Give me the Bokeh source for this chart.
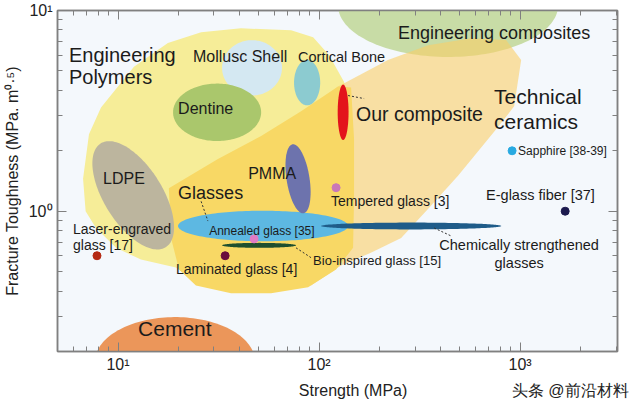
import numpy as np
from bokeh.plotting import figure
from bokeh.models import Range1d, LogAxis, FixedTicker, ColumnDataSource
from bokeh.core.properties import value
from bokeh.embed import file_html
from bokeh.resources import INLINE

FONT = "Liberation Sans"

# ---------------- axes data ----------------
x_limits = (5.0, 3050.0)
y_limits = (0.2, 10.0)
x_major = [10, 100, 1000]
x_minor = [5, 6, 7, 8, 9, 20, 30, 40, 50, 60, 70, 80, 90, 200, 300, 400, 500, 600, 700, 800, 900, 2000, 3000]
y_major = [1, 10]
y_minor = [0.2, 0.3, 0.4, 0.5, 0.6, 0.7, 0.8, 0.9, 2, 3, 4, 5, 6, 7, 8, 9]
x_tick_labels = {10: "10¹", 100: "10²", 1000: "10³"}
y_tick_labels = {1: "10⁰", 10: "10¹"}
x_title = "Strength (MPa)"
y_title = "Fracture Toughness (MPa. m⁰·⁵)"
watermark = "头条 @前沿材料"
# positions (strength) under which the x title and the watermark sit
x_title_at = 147.6
watermark_at = 1775.0

# ---------------- material family regions (strength MPa, toughness MPa m^0.5) ----------------
polymers_strength = [7.17, 8.23, 12.0, 17.7, 25.9, 40.9, 72.6, 93.4, 112, 133, 144, 148, 141, 81.4, 45.9, 25.9, 19.4, 13.0, 9.77, 7.77, 6.9, 6.70]
polymers_toughness = [2.42, 3.29, 5.24, 6.88, 7.79, 8.15, 7.97, 7.36, 6.00, 4.42, 3.22, 1.16, 0.779, 0.442, 0.408, 0.427, 0.524, 0.574, 0.657, 0.825, 1.0, 1.45]

glasses_strength = [17.9, 31.4, 51.5, 81.4, 124.3, 144.3, 149.3, 149.3, 147.6, 121.5, 88.2, 57.7, 36.5, 24.4, 20.1, 18.35]
glasses_toughness = [1.30, 1.82, 2.37, 3.15, 4.18, 4.13, 2.29, 1.16, 0.657, 0.512, 0.418, 0.390, 0.390, 0.427, 0.512, 0.736]

ceramics_strength = [124.3, 220, 349, 570, 852, 1012, 934, 760, 491, 349, 256, 181, 128.7, 91.2, 45.9, 25.9]
ceramics_toughness = [4.18, 5.67, 6.72, 7.28, 7.12, 5.67, 3.33, 2.56, 1.50, 1.03, 0.736, 0.621, 0.536, 0.427, 0.587, 1.16]

# ellipse-shaped families: centre, half-extent (decades) along / across the tilt
ell_names = ["Engineering composites", "Cement", "Mollusc Shell", "Cortical Bone", "Dentine", "LDPE",
             "Annealed glass", "Chemically strengthened", "Bio-inspired", "PMMA", "Our composite"]
ell_strength = [438, 19.2, 46.4, 87.2, 31.1, 11.9, 52.65, 286.9, 50.3, 78.6, 131.7]
ell_toughness = [10.58, 0.178, 5.18, 4.37, 3.11, 1.20, 0.844, 0.844, 0.676, 1.45, 3.11]
ell_a = [0.547, 0.398, 0.149, 0.065, 0.219, 0.305, 0.423, 0.448, 0.184, 0.174, 0.027]
ell_b = [0.256, 0.222, 0.138, 0.113, 0.143, 0.145, 0.076, 0.017, 0.0123, 0.057, 0.138]
ell_angle = [0, 0, 0, 0, 0, -58, 0, 0, 0, -81, 0]
ell_colors = ["#c8dca6", "#eb965a", "#d4e8f2", "#8ccbd0", "#aac76c", "#bcb59e",
              "#5db8e2", "#1f5c89", "#1e4f2e", "#6d73ad", "#e3141b"]

# ---------------- individual data points ----------------
pt_names = ["Tempered glass", "Bio-inspired glass", "Laminated glass", "Laser-engraved glass", "Sapphire", "E-glass fiber"]
pt_strength = [121.5, 47.5, 34.1, 7.86, 912, 1675]
pt_toughness = [1.31, 0.728, 0.600, 0.600, 2.00, 1.0]
pt_colors = ["#c978b8", "#e07cc4", "#6a0d3c", "#b52a14", "#29aae1", "#1c1a4e"]

# ---------------- text labels ----------------
lbl_text = ["Engineering", "Polymers", "Technical", "ceramics", "Cement", "Our composite",
            "Engineering composites", "Glasses", "Mollusc Shell", "Dentine", "LDPE", "PMMA",
            "Cortical Bone", "Tempered glass [3]", "Laminated glass [4]", "Laser-engraved",
            "glass [17]", "E-glass fiber [37]", "Bio-inspired glass [15]", "Annealed glass [35]",
            "Sapphire [38-39]", "Chemically strengthened", "glasses"]
lbl_x = [5.70, 5.70, 742, 742, 12.58, 152.8, 247, 19.9, 23.6, 19.9, 8.42, 44.4, 78.6, 114.7,
         19.4, 5.97, 5.97, 677, 93.4, 28.4, 977, 988.6, 988.6]
lbl_y = [6.00, 4.68, 3.73, 2.81, 0.259, 3.04, 7.70, 1.23, 5.87, 3.25, 1.45, 1.54, 5.87, 1.13,
         0.518, 0.815, 0.680, 1.21, 0.567, 0.797, 2.00, 0.680, 0.555]
lbl_size = ["20px", "20px", "21px", "21px", "21px", "19.5px", "18px", "18px", "16px", "16px", "16px",
            "16px", "14.5px", "14px", "14px", "14px", "14px", "14.5px", "13px", "12px", "12px",
            "14.5px", "14.5px"]
lbl_align = ["left"] * 21 + ["center", "center"]

# leader lines
lead_x = [[25.9, 28.0], [139.4, 167.5], [76.8, 91.2], [373.4, 453.6]]
lead_y = [[1.12, 0.893], [3.77, 3.64], [0.657, 0.587], [0.825, 0.753]]


def ellipse(cx, cy, a, b, theta_deg, n=160):
    t = np.linspace(0, 2 * np.pi, n)
    th = np.radians(theta_deg)
    lx = np.log10(cx) + a * np.cos(t) * np.cos(th) - b * np.sin(t) * np.sin(th)
    ly = np.log10(cy) + a * np.cos(t) * np.sin(th) + b * np.sin(t) * np.cos(th)
    return 10 ** lx, 10 ** ly


p = figure(width=640, height=401, x_axis_type="log", y_axis_type="log",
           x_range=Range1d(*x_limits), y_range=Range1d(*y_limits),
           output_backend="svg", toolbar_location=None,
           min_border_left=57, min_border_right=23, min_border_top=10, min_border_bottom=47)
p.background_fill_color = "#f4f8fc"
p.border_fill_color = "white"
p.outline_line_color = "#808080"
p.outline_line_width = 1.5
p.xgrid.visible = False
p.ygrid.visible = False

# regions
p.patch(polymers_strength, polymers_toughness, fill_color="#f6ed98", line_color=None)
ex, ey = ellipse(ell_strength[0], ell_toughness[0], ell_a[0], ell_b[0], ell_angle[0])
p.patch(ex, ey, fill_color=ell_colors[0], line_color=None)
p.patch(ceramics_strength, ceramics_toughness, fill_color="#face68", fill_alpha=0.6, line_color=None)
p.patch(glasses_strength, glasses_toughness, fill_color="#f8d865", line_color=None)
for i in [1, 2, 3, 4, 5, 6, 7, 8, 9, 10]:
    ex, ey = ellipse(ell_strength[i], ell_toughness[i], ell_a[i], ell_b[i], ell_angle[i])
    p.patch(ex, ey, fill_color=ell_colors[i], line_color=None)

p.multi_line(lead_x, lead_y, line_color="#333333", line_width=1, line_dash="2 2")

p.scatter(pt_strength, pt_toughness, size=8, color=pt_colors)

src = ColumnDataSource(dict(x=lbl_x, y=lbl_y, text=lbl_text, size=lbl_size, align=lbl_align))
p.text(x="x", y="y", text="text", source=src, text_font=value(FONT), text_font_size="size",
       text_align="align", text_baseline="middle", text_color="#1b1b1b")

# axes styling
def style_axis(ax, labels=True):
    ax.axis_line_color = "#808080"
    ax.axis_line_width = 1.5
    ax.major_tick_line_color = "#808080"
    ax.minor_tick_line_color = "#808080"
    ax.major_tick_in = 9
    ax.major_tick_out = 0
    ax.minor_tick_in = 5
    ax.minor_tick_out = 0
    if labels:
        ax.major_label_text_font = FONT
        ax.major_label_text_font_size = "16px"
        ax.major_label_text_color = "#222222"
        ax.axis_label_text_font = FONT
        ax.axis_label_text_font_size = "16px"
        ax.axis_label_text_font_style = "normal"
        ax.axis_label_text_color = "#222222"

xa = p.xaxis[0]
ya = p.yaxis[0]
xa.ticker = FixedTicker(ticks=x_major, minor_ticks=x_minor)
ya.ticker = FixedTicker(ticks=y_major, minor_ticks=y_minor)
xa.major_label_overrides = x_tick_labels
ya.major_label_overrides = y_tick_labels
ya.axis_label = y_title
style_axis(xa)
style_axis(ya)
xa.major_label_standoff = 4
ya.major_label_standoff = 5
ya.axis_label_standoff = 5

# second row under the x axis: x title and the watermark
xrow = LogAxis(ticker=FixedTicker(ticks=[x_title_at, watermark_at], minor_ticks=[]),
               major_label_overrides={x_title_at: x_title, watermark_at: watermark})
xrow.axis_line_color = None
xrow.major_tick_line_color = None
xrow.minor_tick_line_color = None
xrow.major_label_text_font = FONT
xrow.major_label_text_font_size = "16px"
xrow.major_label_text_color = "#222222"
xrow.major_label_standoff = 0
p.add_layout(xrow, "below")

top = LogAxis(ticker=FixedTicker(ticks=x_major, minor_ticks=x_minor))
right = LogAxis(ticker=FixedTicker(ticks=y_major, minor_ticks=y_minor))
for ax in (top, right):
    style_axis(ax, labels=False)
    ax.major_label_text_font_size = "2px"
    ax.major_label_text_alpha = 0
    ax.major_label_standoff = 0
p.add_layout(top, "above")
p.add_layout(right, "right")

open("out.html", "w").write(file_html(p, INLINE))
